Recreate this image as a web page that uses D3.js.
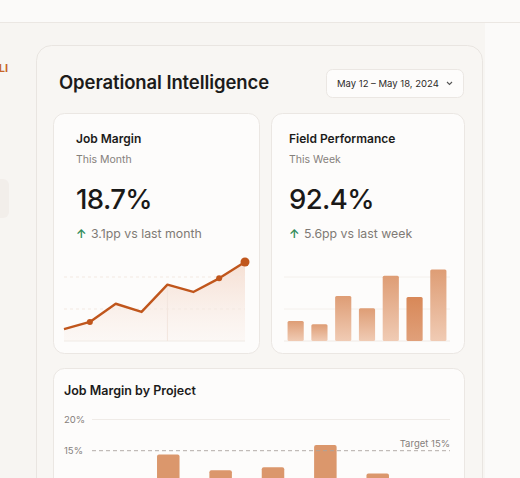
<!DOCTYPE html>
<html>
<head>
<meta charset="utf-8">
<script src="https://cdn.jsdelivr.net/npm/d3@7"></script>
<style>
  html, body { margin: 0; padding: 0; background: #f7f5f2; overflow: hidden; }
  svg { display: block; font-family: Inter, "Noto Sans", sans-serif; }
</style>
</head>
<body>
<script>
// data
var marginWeeks = ["W1", "W2", "W3", "W4", "W5", "W6", "W7", "W8"];
var marginValues = [11.3, 12.1, 14.1, 13.2, 16.2, 15.4, 16.9, 18.7];
var marginDots = [1, 6, 7];

var fieldDays = ["Sun", "Mon", "Tue", "Wed", "Thu", "Fri", "Sat"];
var fieldValues = [84.1, 83.4, 89.2, 86.7, 93.3, 89.0, 94.6];
var fieldHighlight = "Fri";

var projects = ["P-101", "P-102", "P-103", "P-104", "P-105", "P-106", "P-107"];
var projectMargins = [9.2, 14.4, 11.9, 12.4, 15.9, 11.4, 8.6];
var projectTicks = [15, 20];
var targetMargin = 15;

var W = 520, H = 478;
var svg = d3.select("body").append("svg")
  .attr("width", W)
  .attr("height", H);

var defs = svg.append("defs");
var ag = defs.append("linearGradient").attr("id", "areaGrad")
  .attr("x1", 0).attr("y1", 0).attr("x2", 0).attr("y2", 1);
ag.append("stop").attr("offset", "0%").attr("stop-color", "#eab396").attr("stop-opacity", 0.4);
ag.append("stop").attr("offset", "100%").attr("stop-color", "#f7e6dc").attr("stop-opacity", 0.2);

var bg = defs.append("linearGradient").attr("id", "barGrad")
  .attr("x1", 0).attr("y1", 0).attr("x2", 0).attr("y2", 1);
bg.append("stop").attr("offset", "0%").attr("stop-color", "#de9d75");
bg.append("stop").attr("offset", "100%").attr("stop-color", "#f0cbb4");

var bgd = defs.append("linearGradient").attr("id", "barGradDark")
  .attr("x1", 0).attr("y1", 0).attr("x2", 0).attr("y2", 1);
bgd.append("stop").attr("offset", "0%").attr("stop-color", "#d88858");
bgd.append("stop").attr("offset", "100%").attr("stop-color", "#e0a07a");

// page chrome
svg.append("rect").attr("x", 0).attr("y", 0).attr("width", W).attr("height", 22).attr("fill", "#fbfaf9");
svg.append("line").attr("x1", 0).attr("x2", W).attr("y1", 22.5).attr("y2", 22.5).attr("stroke", "#ebe7e3");
svg.append("rect").attr("x", 485).attr("y", 23).attr("width", 35).attr("height", H).attr("fill", "#fbfaf9");

svg.append("text").attr("x", 8).attr("y", 72).attr("text-anchor", "end")
  .attr("font-size", 11).attr("font-weight", 700).attr("fill", "#c8662a").text("LI");
svg.append("rect").attr("x", -10).attr("y", 179).attr("width", 19).attr("height", 39).attr("rx", 6)
  .attr("fill", "#f2eeea");

// main panel
svg.append("rect").attr("x", 36.5).attr("y", 45.5).attr("width", 446).attr("height", 460).attr("rx", 15)
  .attr("fill", "#f8f6f3").attr("stroke", "#e9e5e1");

svg.append("text").attr("x", 59).attr("y", 89).attr("font-size", 18.5).attr("font-weight", 600)
  .attr("letter-spacing", -0.1).attr("fill", "#1c1b1a").text("Operational Intelligence");

svg.append("rect").attr("x", 326.5).attr("y", 69.5).attr("width", 137).attr("height", 28).attr("rx", 6)
  .attr("fill", "#fdfcfb").attr("stroke", "#ebe7e3");
svg.append("text").attr("x", 337).attr("y", 87).attr("font-size", 9.5).attr("fill", "#2d2b29")
  .text("May 12 \u2013 May 18, 2024");
svg.append("path").attr("d", "M447,82 L449.5,84.5 L452,82").attr("fill", "none")
  .attr("stroke", "#555").attr("stroke-width", 1.1);

// cards
function card(x, y, w, h) {
  svg.append("rect").attr("x", x + 0.5).attr("y", y + 0.5).attr("width", w).attr("height", h).attr("rx", 11)
    .attr("fill", "#fdfcfb").attr("stroke", "#ebe7e3");
}
card(53, 113, 206, 240);
card(271, 113, 193, 240);
card(53, 368, 411, 140);

function kpi(x, title, sub, value, delta) {
  svg.append("text").attr("x", x).attr("y", 143).attr("font-size", 12).attr("font-weight", 600)
    .attr("fill", "#1c1b1a").text(title);
  svg.append("text").attr("x", x).attr("y", 163).attr("font-size", 10.5).attr("fill", "#85807b").text(sub);
  svg.append("text").attr("x", x).attr("y", 208.5).attr("font-size", 27.5).attr("font-weight", 500)
    .attr("letter-spacing", -0.6).attr("fill", "#1a1918").text(value);
  svg.append("text").attr("x", x).attr("y", 238).attr("font-size", 12).attr("font-weight", 600)
    .attr("fill", "#2f8a56").text("\u2191");
  svg.append("text").attr("x", x + 15).attr("y", 238).attr("font-size", 12.3).attr("fill", "#7f7a75").text(delta);
}
kpi(76, "Job Margin", "This Month", "18.7%", "3.1pp vs last month");
kpi(289, "Field Performance", "This Week", "92.4%", "5.6pp vs last week");

// Job margin line
var chartTop = 245, chartBottom = 341;
var lx = d3.scalePoint().domain(marginWeeks).range([64, 245]);
var ly = d3.scaleLinear().domain([10, d3.max(marginValues) * 1.1]).range([chartBottom, chartTop]);

var g1 = svg.append("g");
var area = d3.area()
  .x(function(d, i) { return lx(marginWeeks[i]); })
  .y0(chartBottom)
  .y1(function(d) { return ly(d); });
g1.append("path").datum(marginValues).attr("d", area).attr("fill", "url(#areaGrad)");

[1, 2].forEach(function(i) {
  var yy = chartTop + (chartBottom - chartTop) * i / 3;
  g1.append("line").attr("x1", 64).attr("x2", 245).attr("y1", yy).attr("y2", yy)
    .attr("stroke", "#f3e9e2").attr("stroke-dasharray", "3,3");
});
g1.append("line").attr("x1", 64).attr("x2", 245).attr("y1", chartBottom).attr("y2", chartBottom)
  .attr("stroke", "#f0eae5");

g1.append("line").attr("x1", lx(marginWeeks[4])).attr("x2", lx(marginWeeks[4]))
  .attr("y1", ly(marginValues[4])).attr("y2", chartBottom)
  .attr("stroke", "#f2e6de");

var line = d3.line()
  .x(function(d, i) { return lx(marginWeeks[i]); })
  .y(function(d) { return ly(d); });
g1.append("path").datum(marginValues).attr("d", line).attr("fill", "none")
  .attr("stroke", "#c0561c").attr("stroke-width", 2.4).attr("stroke-linejoin", "round");

g1.selectAll("circle").data(marginDots).enter().append("circle")
  .attr("cx", function(i) { return lx(marginWeeks[i]); })
  .attr("cy", function(i) { return ly(marginValues[i]); })
  .attr("r", function(i) { return i === marginValues.length - 1 ? 4.5 : 3; })
  .attr("fill", "#c0561c");

// Field performance bars
var bx = d3.scaleBand().domain(fieldDays).range([284, 450]).paddingInner(0.32).paddingOuter(0.15);
var by = d3.scaleLinear().domain([80, 100]).range([chartBottom, chartTop - 2]);
var g2 = svg.append("g");
[1, 2].forEach(function(i) {
  var yy = chartTop + (chartBottom - chartTop) * i / 3;
  g2.append("line").attr("x1", 284).attr("x2", 450).attr("y1", yy).attr("y2", yy).attr("stroke", "#f4f0ec");
});
g2.append("line").attr("x1", 284).attr("x2", 450).attr("y1", chartBottom).attr("y2", chartBottom)
  .attr("stroke", "#f0eae5");
g2.selectAll("rect.bar").data(fieldValues).enter().append("rect")
  .attr("class", "bar")
  .attr("x", function(d, i) { return bx(fieldDays[i]); })
  .attr("y", function(d) { return by(d); })
  .attr("width", bx.bandwidth())
  .attr("height", function(d) { return chartBottom - by(d); })
  .attr("rx", 1.5)
  .attr("fill", function(d, i) { return fieldDays[i] === fieldHighlight ? "url(#barGradDark)" : "url(#barGrad)"; });

// Job margin by project
svg.append("text").attr("x", 64).attr("y", 395).attr("font-size", 12.5).attr("font-weight", 600)
  .attr("fill", "#1c1b1a").text("Job Margin by Project");

var px = d3.scaleBand().domain(projects).range([90, 456]).paddingInner(0.57).paddingOuter(0.28);
var py = d3.scaleLinear().domain([0, 20]).range([545.8, 419]);
var g3 = svg.append("g");
projectTicks.forEach(function(t) {
  if (t === targetMargin) return;
  g3.append("line").attr("x1", 92).attr("x2", 450).attr("y1", py(t) + 0.5).attr("y2", py(t) + 0.5)
    .attr("stroke", "#efebe7");
});
g3.selectAll("text.tick").data(projectTicks).enter().append("text")
  .attr("class", "tick")
  .attr("x", 64).attr("y", function(t) { return py(t) + 3.5; })
  .attr("font-size", 9.5).attr("fill", "#85807b")
  .text(function(t) { return t + "%"; });
g3.selectAll("rect.bar").data(projectMargins).enter().append("rect")
  .attr("class", "bar")
  .attr("x", function(d, i) { return px(projects[i]); })
  .attr("y", function(d) { return py(d); })
  .attr("width", px.bandwidth())
  .attr("height", function(d) { return py(0) - py(d); })
  .attr("rx", 2)
  .attr("fill", "#db976c");
g3.append("line").attr("x1", 92).attr("x2", 450).attr("y1", py(targetMargin)).attr("y2", py(targetMargin))
  .attr("stroke", "#aaa49f").attr("stroke-dasharray", "4,3").attr("stroke-width", 0.9);
g3.append("text").attr("x", 450).attr("y", py(targetMargin) - 4).attr("text-anchor", "end")
  .attr("font-size", 9.5).attr("fill", "#85807b").text("Target " + targetMargin + "%");
</script>
</body>
</html>
